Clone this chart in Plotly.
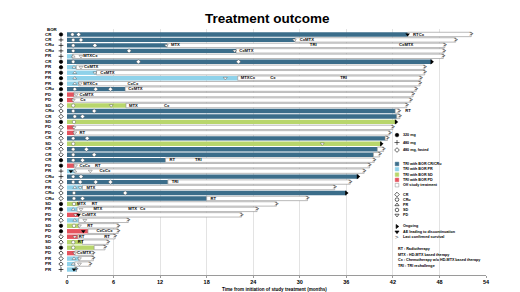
import plotly.graph_objects as go

# ---------------- data ----------------
bor = ["CR","CR","CRu","CRu","PR","CR","PR","PR","PR","PR","CRu","PD","PD","SD","CRu","CR",
       "SD","PD","PD","CR","SD","CR","CR","CR","PD","PR","CRu","CR","PR","CRu","CRu","SD",
       "PR","PD","PR","SD","PD","PD","SD","SD","PD","PR","PR","PR"]
dose = ["320","480","480","480","480","320","320","320","320","320","320","320","320","fast",
        "fast","fast","320","fast","fast","fast","fast","fast","fast","320","320","480","480",
        "fast","fast","fast","fast","320","320","fast","fast","320","320","fast","fast","320",
        "fast","fast","fast","480"]
tx_end = [43.9, 29.4, 12.9, 21.8, 0.7, 47.0, 1.2, 3.8, 22.0, 1.5, 7.5, 0.9, 0.8, 7.6, 42.3,
          42.5, 42.4, 0.9, 0.9, 41.0, 40.5, 40.0, 39.5, 12.7, 0.9, 1.0, 37.5, 13.0, 2.0, 36.0,
          18.0, 1.5, 1.3, 1.5, 1.5, 1.5, 2.7, 1.4, 2.0, 3.5, 1.0, 1.5, 1.0, 1.2]
fu_end = [52.1, 50.1, 48.7, 48.6, 48.5, 47.0, 46.1, 46.1, 45.6, 45.5, 45.0, 44.6, 44.3, 43.8,
          42.8, 42.9, 42.4, 42.0, 41.6, 41.3, 40.5, 40.8, 40.3, 39.6, 39.0, 38.3, 37.5, 36.5,
          34.5, 36.0, 31.0, 27.0, 24.5, 22.5, 7.9, 6.6, 6.6, 6.2, 5.3, 4.9, 3.4, 3.4, 3.0, 1.2]
ongoing_rows = [6, 17, 21, 27, 30]

resp_row = [1,1, 2,2,2, 3,3,3, 4,4,4, 5,5, 6,6,6, 7,7, 8,8, 9,9, 10,10, 11,11,11, 12, 13,
            14,14, 15,15, 16,16, 17, 18, 19, 20,20, 21,21, 22,22, 23,23, 24,24, 25, 26,26,
            27,27, 28,28,28,28, 29,29, 30,30, 31,31, 32, 33,33, 34, 35,35, 36,36, 38, 39, 40,
            41, 42,42, 43,43]
resp_time = [0.7,1.5, 0.8,1.8,29.3, 0.8,3.6,12.8, 0.8,8.0,21.6, 0.8,1.8, 0.8,9.2,22.1,
             0.9,1.8, 1.0,3.6, 1.0,20.4, 1.0,1.7, 1.0,3.7,5.6, 1.2, 0.8, 0.8,5.7, 0.8,3.5,
             1.0,2.0, 0.9, 0.9, 1.0, 0.8,2.6, 0.8,32.9, 0.8,2.5, 0.8,3.5, 0.8,2.0, 1.1,
             1.0,3.0, 0.8,1.8, 0.8,1.7,3.7,5.6, 1.0,1.7, 0.9,7.5, 0.9,2.0, 0.9, 0.8,1.8,
             1.1, 1.0,2.3, 0.9,1.6, 1.0, 0.8, 0.8, 1.0, 0.9,1.6, 0.8,1.6]
resp_type = ["CRu","CR", "CRu","CR","PD", "CRu","CR","PD", "CRu","CR","PD", "PR","PD",
             "CRu","CR","CR", "PR","PD", "PR","PD", "PR","PD", "PR","PD", "CRu","CR","CR",
             "PD", "PD", "SD","PD", "CRu","CR", "CRu","CR", "SD", "PD", "PD", "CRu","CR",
             "SD","PD", "CRu","CR", "CRu","CR", "CRu","CR", "PD", "PR","PD", "CRu","CR",
             "CRu","CR","CR","CR", "PR","PD", "CRu","CR", "CRu","CR", "SD", "PR","PD", "PD",
             "PR","PD", "SD","PD", "PD", "SD", "SD", "PD", "PR","PD", "PR","PD"]

ae_row = [1, 26, 34, 37, 44]
ae_time = [43.9, 0.5, 1.5, 2.1, 0.9]

txt_row = [1, 2, 3, 3, 3, 4, 5, 7, 8, 9, 9, 9, 10, 10, 11, 12, 13, 14, 14, 15, 19, 24, 24,
           25, 25, 26, 28, 29, 31, 32, 32, 33, 33, 33, 34, 36, 37, 38, 38, 39, 41]
txt_time = [44.6, 30.0, 13.4, 31.3, 42.8, 22.2, 2.1, 2.2, 4.3, 22.4, 26.2, 35.2, 2.1, 7.8,
            7.9, 1.6, 1.7, 8.0, 12.5, 43.6, 1.6, 13.2, 16.5, 1.6, 3.6, 4.2, 13.5, 2.5, 18.5,
            1.3, 3.2, 3.4, 7.9, 9.4, 1.9, 2.6, 3.8, 1.5, 4.8, 1.4, 1.3]
txt_label = ["RTCx", "CxMTX", "MTX", "TRI", "CxMTX", "CxMTX", "MTXCx", "CxMTX", "CxMTX",
             "MTXCx", "Cx", "TRI", "MTXCx", "CxCx", "CxMTX", "CxMTX", "Cx", "MTX", "Cx", "RT",
             "RT", "RT", "TRI", "CxCx", "RT", "CxCx", "TRI", "MTX", "RT", "MTX", "RT", "MTX",
             "MTX", "Cx", "CxMTX", "RT", "CxCxCx", "RT", "RT", "RT", "CxMTX"]

x_ticks = [0, 6, 12, 18, 24, 30, 36, 42, 48, 54]

dose_legend = ["320 mg", "480 mg", "480 mg, fasted"]
bar_legend = ["TRI with BOR CR/CRu", "TRI with BOR PR", "TRI with BOR SD", "TRI with BOR PD",
              "Off study treatment"]
resp_legend = ["CR", "CRu", "PR", "SD", "PD"]
event_legend = ["Ongoing", "AE leading to discontinuation", "Last confirmed survival"]
abbr_legend = ["RT : Radiotherapy", "MTX : HD-MTX based therapy",
               "Cx : Chemotherapy w/o HD-MTX based therapy", "TRI : TRI rechallenge"]

# ---------------- style ----------------
FONT = "Liberation Sans, Arial, sans-serif"
bor_color = {"CR": "#3b6d8a", "CRu": "#3b6d8a", "PR": "#8fd2ea", "SD": "#b8d66c", "PD": "#e5535e"}
dose_sym = {"320": "circle", "480": "cross-thin-open", "fast": "diamond-open"}
resp_sym = {"CR": "diamond", "CRu": "circle", "PR": "triangle-up", "SD": "circle", "PD": "triangle-down"}

W, H = 520, 292
L0, X0, R, T, B = 30, 59, 42, 20.5, 24.5   # page left margin, start of time axis
AW = W - L0 - R
PH = H - T - B
dom0 = (X0 - L0) / AW

def px(x, y):
    return (x - L0) / AW, (H - B - y) / PH

n = len(bor)
rows = list(range(1, n + 1))

fig = go.Figure()

fig.add_trace(go.Bar(orientation="h", y=rows, x=tx_end, base=[0] * n, width=0.8,
                     marker=dict(color=[bor_color[b] for b in bor], line=dict(width=0)),
                     showlegend=False, hoverinfo="skip"))
off_len = [f - t for f, t in zip(fu_end, tx_end)]
fig.add_trace(go.Bar(orientation="h", y=rows, x=off_len, base=tx_end, width=0.8,
                     marker=dict(color="white", line=dict(color="#8a8a8a", width=0.6)),
                     showlegend=False, hoverinfo="skip"))

fig.add_trace(go.Scatter(x=resp_time, y=resp_row, mode="markers",
                         marker=dict(symbol=[resp_sym[t] for t in resp_type], size=3.4,
                                     color="white", line=dict(color="#444444", width=0.4)),
                         showlegend=False, hoverinfo="skip"))
fig.add_trace(go.Scatter(x=ae_time, y=ae_row, mode="markers",
                         marker=dict(symbol="triangle-down", size=4, color="black"),
                         showlegend=False, hoverinfo="skip"))
fig.add_trace(go.Scatter(x=[fu_end[r - 1] for r in ongoing_rows], y=ongoing_rows, mode="markers",
                         marker=dict(symbol="triangle-right", size=4.5, color="black"),
                         showlegend=False, hoverinfo="skip"))
surv_rows = [r for r in rows if r not in ongoing_rows]
fig.add_trace(go.Scatter(x=[fu_end[r - 1] for r in surv_rows], y=surv_rows, mode="text",
                         text=[">"] * len(surv_rows), textposition="middle center",
                         textfont=dict(family=FONT, size=7, color="#333333"),
                         showlegend=False, hoverinfo="skip"))
fig.add_trace(go.Scatter(x=txt_time, y=txt_row, mode="text", text=txt_label,
                         textposition="middle right",
                         textfont=dict(family=FONT, size=4.2, color="black", weight="bold"),
                         showlegend=False, hoverinfo="skip"))

fig.add_trace(go.Scatter(x=[37] * n, y=rows, xaxis="x3", mode="text", text=bor,
                         textposition="middle right",
                         textfont=dict(family=FONT, size=4.4, color="black", weight="bold"),
                         cliponaxis=False, showlegend=False, hoverinfo="skip"))
fig.add_trace(go.Scatter(x=[53] * n, y=rows, xaxis="x3", mode="markers",
                         marker=dict(symbol=[dose_sym[d] for d in dose], size=3.4, color="black",
                                     line=dict(color="black", width=0.7)),
                         cliponaxis=False, showlegend=False, hoverinfo="skip"))

annotations = []
annotations.append(dict(x=37, y=0.15, xref="x3", yref="y", text="BOR", showarrow=False,
                        xanchor="left", yanchor="middle",
                        font=dict(family=FONT, size=4.4, color="black", weight="bold")))

# ---------------- legend (drawn manually) ----------------
sym_x, txt_x = 389, 393
leg_sym_x, leg_sym_y, leg_syms, leg_fill = [], [], [], []
lf = dict(family=FONT, size=3.7, color="black", weight="bold")

def leg_text(label, y, x=txt_x):
    xx, yy = px(x, y)
    annotations.append(dict(x=xx, y=yy, xref="paper", yref="paper", text=label, showarrow=False,
                            xanchor="left", yanchor="middle", font=lf))

dose_y = [127, 134.5, 142]
for lab, y, d in zip(dose_legend, dose_y, ["320", "480", "fast"]):
    leg_sym_x.append(sym_x); leg_sym_y.append(y); leg_syms.append(dose_sym[d]); leg_fill.append("black")
    leg_text(lab, y)

bar_y = [156, 161.3, 166.7, 172, 177.3]
bar_cols = ["#3b6d8a", "#8fd2ea", "#b8d66c", "#e5535e", "white"]
shapes = []
for lab, y, c in zip(bar_legend, bar_y, bar_cols):
    x0, y0 = px(sym_x - 1.8, y + 1.8)
    x1, y1 = px(sym_x + 1.8, y - 1.8)
    shapes.append(dict(type="rect", xref="paper", yref="paper", x0=x0, x1=x1, y0=y0, y1=y1,
                       fillcolor=c, line=dict(color="#8a8a8a" if c == "white" else c, width=0.5)))
    leg_text(lab, y)

resp_y = [186.7, 191.8, 197, 202.2, 207.4]
for lab, y in zip(resp_legend, resp_y):
    leg_sym_x.append(sym_x); leg_sym_y.append(y); leg_syms.append(resp_sym[lab]); leg_fill.append("white")
    leg_text(lab, y)

ev_y = [218.8, 224.2, 229.6]
ev_syms = ["triangle-right", "triangle-down", None]
for lab, y, s in zip(event_legend, ev_y, ev_syms):
    if s:
        leg_sym_x.append(sym_x); leg_sym_y.append(y); leg_syms.append(s); leg_fill.append("black")
    else:
        xx, yy = px(sym_x, y)
        annotations.append(dict(x=xx, y=yy, xref="paper", yref="paper", text=">", showarrow=False,
                                xanchor="center", yanchor="middle",
                                font=dict(family=FONT, size=6, color="#333333")))
    leg_text(lab, y)

abbr_y = [241.8, 247.2, 252.7, 258.1]
for lab, y in zip(abbr_legend, abbr_y):
    leg_text(lab, y, x=sym_x - 1.5)

fig.add_trace(go.Scatter(x=leg_sym_x, y=leg_sym_y, xaxis="x2", yaxis="y2", mode="markers",
                         marker=dict(symbol=leg_syms, size=3.6, color=leg_fill,
                                     line=dict(color="black", width=0.6)),
                         showlegend=False, hoverinfo="skip"))

tx, ty = px(259, 10)
annotations.append(dict(x=tx, y=ty, xref="paper", yref="paper", text="Treatment outcome",
                        showarrow=False, xanchor="center", yanchor="middle",
                        font=dict(family=FONT, size=13.5, color="black", weight="bold")))
ax, ay = px(266, 282.5)
annotations.append(dict(x=ax, y=ay, xref="paper", yref="paper",
                        text="Time from initiation of study treatment (months)",
                        showarrow=False, xanchor="center", yanchor="middle",
                        font=dict(family=FONT, size=4.6, color="black", weight="bold")))

fig.update_layout(
    width=W, height=H, margin=dict(l=L0, r=R, t=T, b=B, pad=0),
    paper_bgcolor="white", plot_bgcolor="white", barmode="overlay",
    showlegend=False, annotations=annotations, shapes=shapes,
    xaxis=dict(domain=[dom0, 1], range=[0, 54], tickvals=x_ticks,
               ticktext=[str(v) for v in x_ticks],
               showgrid=True, gridcolor="#e3e3e3", gridwidth=0.6, zeroline=False,
               showline=True, linecolor="#9a9a9a", linewidth=0.6, ticks="outside", ticklen=2,
               tickcolor="#9a9a9a", tickwidth=0.6,
               tickfont=dict(family=FONT, size=5.5, color="black", weight="bold")),
    yaxis=dict(range=[n + 1, 0], showgrid=False, zeroline=False, showticklabels=False,
               showline=False, ticks=""),
    xaxis2=dict(range=[X0, W - R], overlaying="x", anchor="y2", visible=False),
    yaxis2=dict(range=[H - B, T], overlaying="y", anchor="x2", visible=False),
    xaxis3=dict(domain=[0, dom0], range=[L0, X0], anchor="y", visible=False),
)

fig.write_html("out.html")
